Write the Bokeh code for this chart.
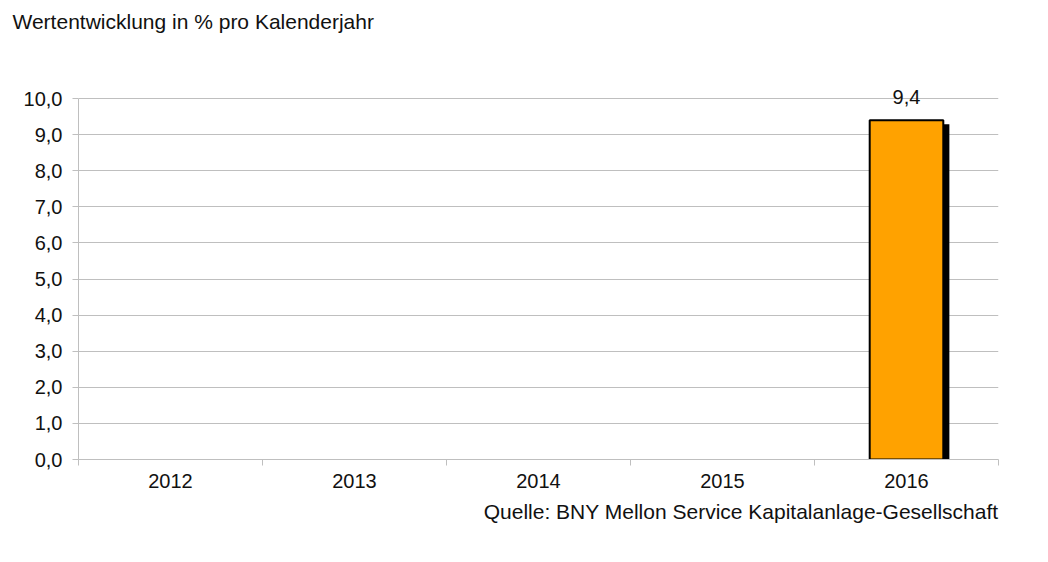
from bokeh.plotting import figure
from bokeh.models import (ColumnDataSource, FixedTicker, CustomJSTickFormatter, Title,
                          LabelSet, Range1d)
from bokeh.core.properties import value
from bokeh.transform import dodge
from bokeh.embed import file_html
from bokeh.resources import INLINE

years = ["2012", "2013", "2014", "2015", "2016"]
values = [None, None, None, None, 9.4]
value_labels = ["", "", "", "", "9,4"]
title_text = "Wertentwicklung in % pro Kalenderjahr"
source_text = "Quelle: BNY Mellon Service Kapitalanlage-Gesellschaft"

FONT = "Liberation Sans"
GRID = "#bfbfbf"
TXT = "#111111"

pos = [i + 0.5 for i in range(len(years))]
xs = [pos[i] for i, v in enumerate(values) if v is not None]
tops = [v for v in values if v is not None]
labs = [value_labels[i] for i, v in enumerate(values) if v is not None]
src = ColumnDataSource(dict(x=xs, top=tops, shadow_top=[t - 0.11 for t in tops], lab=labs))

p = figure(width=1038, height=550, output_backend="svg", toolbar_location=None,
           x_range=Range1d(0, len(years)), y_range=Range1d(0, 11.72),
           min_border_left=78, min_border_right=40, min_border_top=36, min_border_bottom=91)
p.outline_line_color = None
p.background_fill_color = "white"

# shadow
p.vbar(x=dodge("x", 0.033, range=p.x_range), top="shadow_top", bottom=0, width=0.40,
       source=src, fill_color="black", line_color=None)
# bar
p.vbar(x="x", top="top", bottom=0, width=0.40, source=src,
       fill_color="#FFA200", line_color="black", line_width=2)

p.add_layout(LabelSet(x="x", y="top", text="lab", source=src, y_offset=16,
                      text_align="center", text_baseline="alphabetic",
                      text_font=value(FONT), text_font_size="20px", text_color=TXT))

# y axis
p.yaxis.ticker = FixedTicker(ticks=list(range(0, 11)))
p.yaxis.bounds = (0, 10)
p.yaxis.formatter = CustomJSTickFormatter(code="return tick.toFixed(1).replace('.', ',');")
p.yaxis.axis_line_color = GRID
p.yaxis.major_tick_line_color = GRID
p.yaxis.major_tick_out = 6
p.yaxis.major_tick_in = 0
p.yaxis.minor_tick_line_color = None
p.yaxis.major_label_text_font = FONT
p.yaxis.major_label_text_font_size = "20px"
p.yaxis.major_label_text_color = TXT
p.yaxis.major_label_standoff = 10

# x axis
p.xaxis.ticker = FixedTicker(ticks=pos, minor_ticks=list(range(0, len(years) + 1)))
p.xaxis.major_label_overrides = {pos[i]: y for i, y in enumerate(years)}
p.xaxis.axis_line_color = GRID
p.xaxis.major_tick_line_color = None
p.xaxis.minor_tick_line_color = GRID
p.xaxis.minor_tick_out = 6
p.xaxis.minor_tick_in = 0
p.xaxis.major_label_text_font = FONT
p.xaxis.major_label_text_font_size = "20px"
p.xaxis.major_label_text_color = TXT
p.xaxis.major_label_standoff = 8

p.xgrid.grid_line_color = None
p.ygrid.grid_line_color = GRID
p.ygrid.grid_line_width = 1

p.add_layout(Title(text=title_text, align="left", offset=-66, standoff=8,
                   text_font=FONT, text_font_size="21px", text_font_style="normal",
                   text_color=TXT), "above")
p.add_layout(Title(text=source_text, align="right", standoff=14,
                   text_font=FONT, text_font_size="21px", text_font_style="normal",
                   text_color=TXT), "below")

open("out.html", "w").write(file_html(p, INLINE))
